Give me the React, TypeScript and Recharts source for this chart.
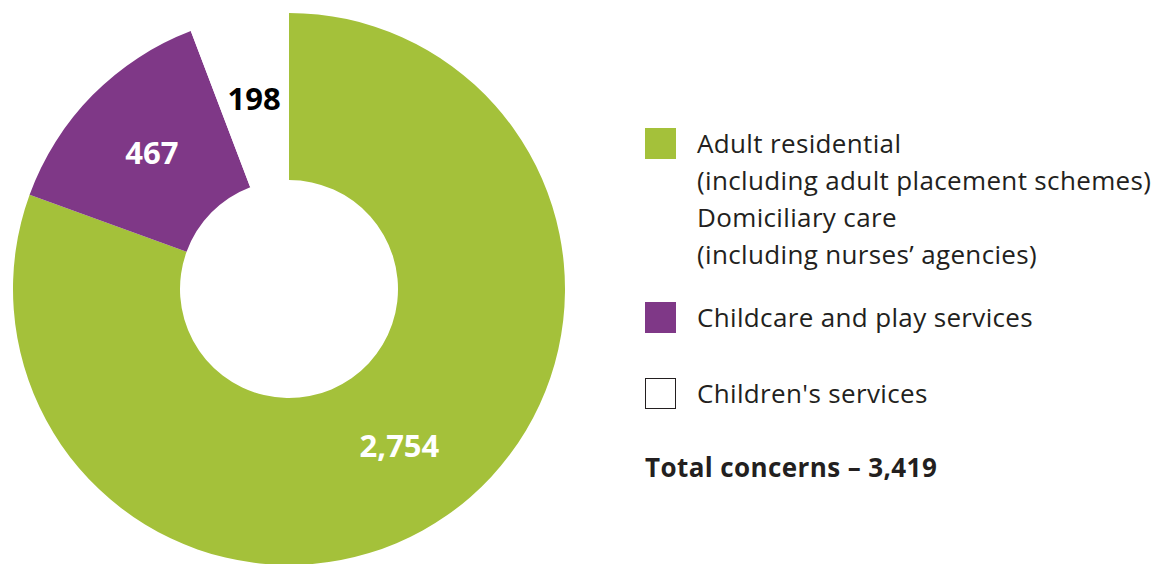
import React from 'react';
import { PieChart, Pie, Cell, Legend } from 'recharts';

// Concerns by service type
const categories = ['Adult residential / Domiciliary care', 'Childcare and play services', "Children's services"];
const values = [2754, 467, 198];
const colors = ['#a4c13a', '#7f3887', '#ffffff'];
const labelColors = ['#ffffff', '#ffffff', '#000000'];

// legend wording, one list of lines per slice
const legendLines = [
  ['Adult residential', '(including adult placement schemes)', 'Domiciliary care', '(including nurses\u2019 agencies)'],
  ['Childcare and play services'],
  ["Children's services"],
];

const total = values.reduce((a, b) => a + b, 0);
const data = categories.map((name, i) => ({ name, value: values[i] }));

const RADIAN = Math.PI / 180;
const FONT = '"Open Sans", Lato, sans-serif';

const renderLabel = (props: any) => {
  const { cx, cy, midAngle, innerRadius, outerRadius, value, index } = props;
  const r = (innerRadius + outerRadius) / 2;
  const x = cx + r * Math.cos(-midAngle * RADIAN);
  const y = cy + r * Math.sin(-midAngle * RADIAN);
  return (
    <text
      x={x}
      y={y}
      dy={-2}
      fill={labelColors[index]}
      textAnchor="middle"
      dominantBaseline="central"
      fontFamily={FONT}
      fontWeight={700}
      fontSize={31}
    >
      {value.toLocaleString('en-GB')}
    </text>
  );
};

const LegendBox = () => (
  <div style={{ fontFamily: FONT, color: '#231f20' }}>
    {legendLines.map((lines, i) => (
      <div key={i} style={{ display: 'flex', alignItems: 'flex-start', marginBottom: i === 0 ? 29 : 42 }}>
        <div
          style={{
            width: i === 2 ? 29 : 31,
            height: i === 2 ? 29 : 31,
            background: colors[i],
            border: i === 2 ? '1px solid #231f20' : 'none',
            flexShrink: 0,
          }}
        />
        <div style={{ marginLeft: 21, marginTop: -3 }}>
          {lines.map((l) => (
            <div key={l} style={{ fontSize: 26, lineHeight: '37px', letterSpacing: 0.35, whiteSpace: 'nowrap' }}>
              {l}
            </div>
          ))}
        </div>
      </div>
    ))}
    <div style={{ fontSize: 26, fontWeight: 700, marginTop: -5, letterSpacing: 0.4 }}>
      Total concerns {'\u2013'} {total.toLocaleString('en-GB')}
    </div>
  </div>
);

export default function App() {
  return (
    <div style={{ position: 'absolute', left: 0, top: 0, width: 1155, height: 564, background: '#fff' }}>
      <PieChart width={1155} height={564} margin={{ top: 0, right: 0, bottom: 0, left: 0 }}>
        <Pie
          data={data}
          dataKey="value"
          nameKey="name"
          cx={289}
          cy={289}
          innerRadius={109}
          outerRadius={276}
          startAngle={90}
          endAngle={-270}
          stroke="none"
          label={renderLabel}
          labelLine={false}
          isAnimationActive={false}
        >
          {data.map((d, i) => (
            <Cell key={d.name} fill={colors[i]} />
          ))}
        </Pie>
        <Legend
          content={<LegendBox />}
          layout="vertical"
          verticalAlign="top"
          align="right"
          wrapperStyle={{ position: 'absolute', left: 645, top: 128, width: 510 }}
        />
      </PieChart>
    </div>
  );
}
